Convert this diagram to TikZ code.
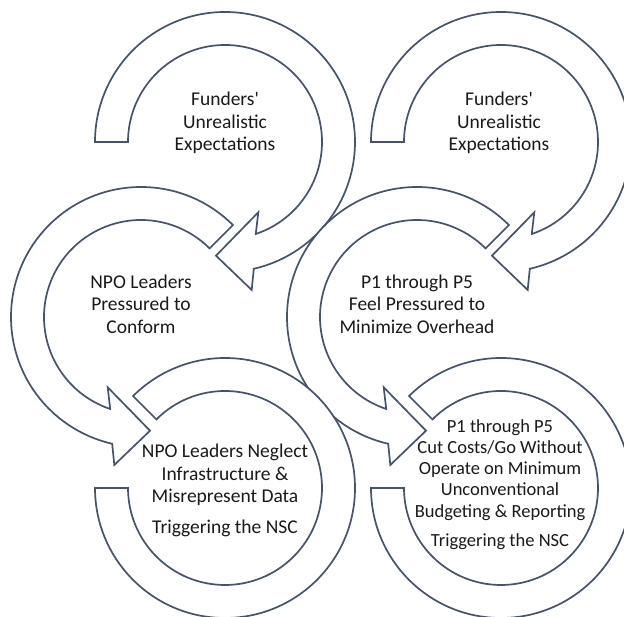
\documentclass[tikz,border=0pt]{standalone}
\usepackage{fontspec}
\setmainfont{Carlito}
\newfontfamily\aposfont{Carlito}
\definecolor{ringcol}{HTML}{44546A}
\definecolor{txtcol}{HTML}{1A1A1A}
\newcommand\cwring[1]{%
  \begin{scope}[shift={#1}]
    \path[ringshape] (180:130) arc[start angle=180,end angle=-77.2,radius=130]
      -- (26.7,-148) -- (-9,-113.7) -- (33.3,-70.3) -- (-71.5:97)
      arc[start angle=-71.5,end angle=180,radius=97] -- cycle;
  \end{scope}}
\newcommand\ccwring[1]{%
  \begin{scope}[shift={#1}]
    \path[ringshape] (45:130) arc[start angle=45,end angle=257.2,radius=130]
      -- (-26.7,-148) -- (9,-113.7) -- (-33.3,-70.3) -- (251.5:97)
      arc[start angle=251.5,end angle=45,radius=97] -- cycle;
  \end{scope}}
\newcommand\openring[1]{%
  \begin{scope}[shift={#1}]
    \path[ringshape] (180:130) arc[start angle=180,end angle=495,radius=130]
      -- (495:97) arc[start angle=495,end angle=180,radius=97] -- cycle;
  \end{scope}}
\begin{document}
\begin{tikzpicture}[x=1pt,y=1pt,
  ringshape/.style={draw=ringcol,line width=1.7pt,fill=white,line join=miter},
  lbl/.style={text=txtcol,align=center,inner sep=0pt,font=\fontsize{19.5}{22.5}\selectfont},
  lblsmall/.style={lbl,font=\fontsize{18.5}{21.3}\selectfont}]
\useasboundingbox (0,0) rectangle (624,617);
\clip (0,0) rectangle (624,617);
\fill[white] (0,0) rectangle (624,617);
% top row
\cwring{(225,475)}
\cwring{(501,475)}
% middle row
\ccwring{(141,300)}
\ccwring{(417,300)}
% bottom row
\openring{(225,129)}
\openring{(501,129)}
% labels
\node[lbl] (t1) at (225,494) {Funders{\aposfont '}\\Unrealistic\\Expectations};
\node[lbl] (t2) at (499,494) {Funders{\aposfont '}\\Unrealistic\\Expectations};
\node[lbl] (m1) at (141,313) {NPO Leaders\\Pressured to\\Conform};
\node[lbl] (m2) at (417,313) {P1 through P5\\Feel Pressured to\\Minimize Overhead};
\node[lbl] (b1) at (225,126.5) {NPO Leaders Neglect\\Infrastructure \&\\Misrepresent Data\\[8pt]Triggering the NSC};
\node[lblsmall] (b2) at (500,132.5) {P1 through P5\\Cut Costs/Go Without\\Operate on Minimum\\Unconventional\\Budgeting \& Reporting\\[8pt]Triggering the NSC};
\end{tikzpicture}
\end{document}
